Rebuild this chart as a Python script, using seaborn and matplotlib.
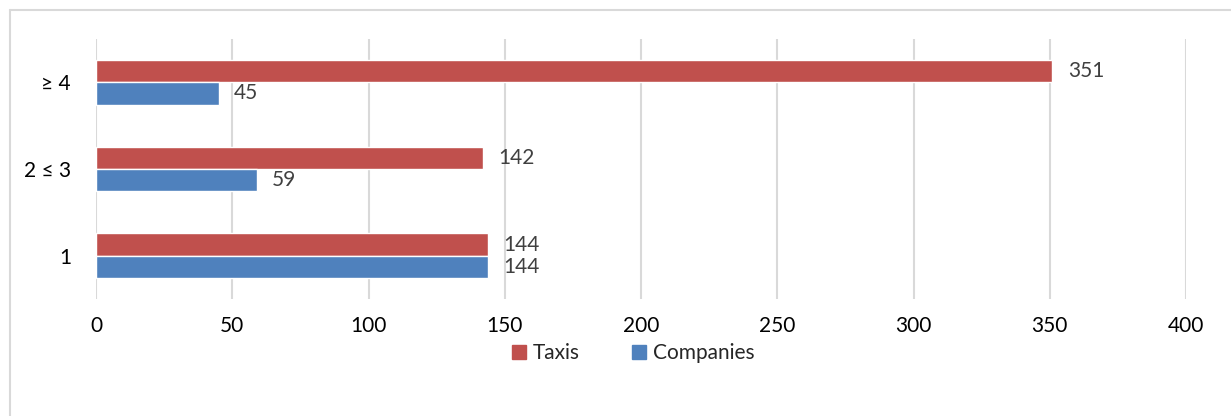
import matplotlib
matplotlib.use("Agg")
import matplotlib.pyplot as plt
import seaborn as sns
import pandas as pd
from matplotlib.lines import Line2D

categories = ["≥ 4", "2 ≤ 3", "1"]
taxis = [351, 142, 144]
companies = [45, 59, 144]
series = ["Taxis", "Companies"]
x_ticks = [0, 50, 100, 150, 200, 250, 300, 350, 400]

df = pd.DataFrame({
    "cat": categories * 2,
    "value": taxis + companies,
    "series": ["Taxis"] * 3 + ["Companies"] * 3,
})

sns.set_theme(style="white")
plt.rcParams['font.family'] = ['Lato', 'DejaVu Sans']

fig = plt.figure(figsize=(12.31, 4.16), dpi=100)
ax = fig.add_axes([96 / 1231, 1 - 299 / 416, (1186 - 96) / 1231, 260 / 416])

palette = {"Taxis": "#C0504D", "Companies": "#4F81BD"}
sns.barplot(data=df, y="cat", x="value", hue="series", order=categories,
            hue_order=series, palette=palette, orient="h", width=0.515,
            saturation=1, ax=ax, legend=False, errorbar=None)

for cont in ax.containers:
    ax.bar_label(cont, padding=11, fontsize=15, color="#404040")

ax.set_xlim(0, 400)
ax.set_ylim(2.5, -0.5)
ax.set_xticks(x_ticks)
ax.set_xticklabels([str(t) for t in x_ticks])
ax.xaxis.grid(True, color="#D9D9D9", linewidth=1.5)
ax.yaxis.grid(False)
ax.set_axisbelow(True)
for s in ax.spines.values():
    s.set_visible(False)
ax.tick_params(axis="x", length=0, pad=12, labelsize=15, labelcolor="black")
ax.tick_params(axis="y", length=0, pad=18, labelsize=15, labelcolor="black")
ax.set_xlabel("")
ax.set_ylabel("")

handles = [Line2D([], [], marker="s", linestyle="", markersize=10,
                  markerfacecolor=palette[s], markeredgecolor=palette[s]) for s in series]
fig.legend(handles, series, loc="center", bbox_to_anchor=(632 / 1231, 1 - 353 / 416),
           ncol=2, frameon=False, fontsize=15, handletextpad=0.2, columnspacing=2.4,
           handlelength=0.9)

# chart border (left and top visible)
fig.add_artist(Line2D([9.5 / 1231, 9.5 / 1231], [0, 1 - 9.5 / 416], color="#D9D9D9", linewidth=1.5,
                      transform=fig.transFigure))
fig.add_artist(Line2D([9.5 / 1231, 1], [1 - 9.5 / 416, 1 - 9.5 / 416], color="#D9D9D9", linewidth=1.5,
                      transform=fig.transFigure))

fig.savefig("out.png", dpi=100)
